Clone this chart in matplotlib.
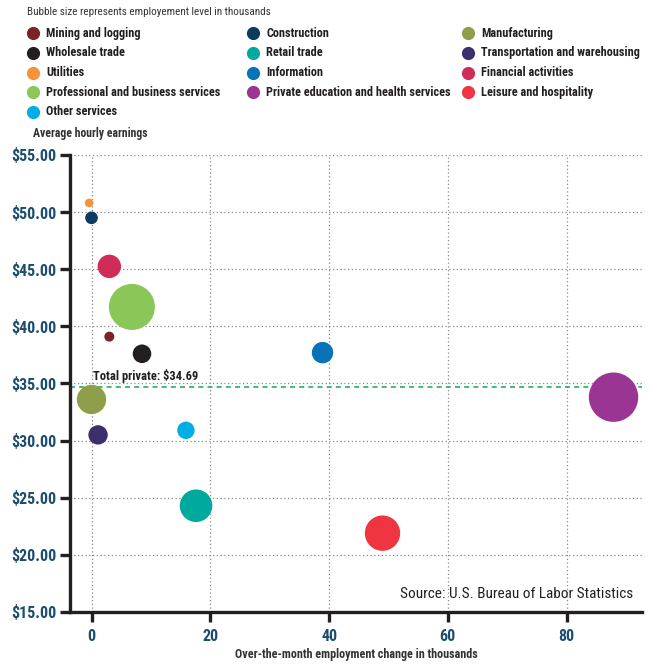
import matplotlib.pyplot as plt
from matplotlib.lines import Line2D

plt.rcParams["font.family"] = ["Roboto Condensed", "DejaVu Sans"]
plt.rcParams["font.stretch"] = "condensed"

# sectors in legend order (row by row)
sectors = ["Mining and logging", "Construction", "Manufacturing",
           "Wholesale trade", "Retail trade", "Transportation and warehousing",
           "Utilities", "Information", "Financial activities",
           "Professional and business services", "Private education and health services",
           "Leisure and hospitality", "Other services"]
job_change = [3.0, 0.0, 0.0, 8.5, 17.6, 1.1, -0.4, 38.9, 3.0, 6.8, 87.9, 49.0, 15.9]
hourly_pay = [39.1, 49.5, 33.6, 37.6, 24.3, 30.5, 50.8, 37.7, 45.25, 41.7, 33.8, 21.9, 30.9]
employment = [1000, 1600, 8600, 3450, 10600, 3750, 740, 4580, 5480, 21200, 24400, 12500, 3030]
colors = ["#7b2326", "#0b3c5d", "#8f9e4a", "#231f20", "#00a99d", "#3d2f6e",
          "#f7923a", "#0872b9", "#d02c5a", "#8bc659", "#9b3593", "#ee3540", "#00aee6"]
total_private = 34.69
x_ticks = [0, 20, 40, 60, 80]
y_ticks = [15, 20, 25, 30, 35, 40, 45, 50, 55]

dark = "#231f20"
blue = "#1b4d6e"

fig = plt.figure(figsize=(6.52, 6.66), dpi=100)
ax = fig.add_axes([0.1074, 0.0811, 0.8773, 0.6862])

sizes = [e * 0.05184 for e in employment]
ax.scatter(job_change, hourly_pay, s=sizes, c=colors, linewidths=0, zorder=3)

ax.axhline(total_private, color="#1fb35a", lw=1.2, ls=(0, (3, 2.5)), zorder=2)
ax.text(0.3, total_private + 0.35, "Total private: $34.69", fontsize=9,
        fontweight="bold", color=dark, va="bottom", ha="left")

ax.set_xlim(-3.62, 92.7)
ax.set_ylim(15, 55)
ax.set_xticks(x_ticks)
ax.set_yticks(y_ticks)
ax.set_yticklabels(["${:.2f}".format(v) for v in y_ticks])
ax.grid(True, ls=(0, (1, 2)), color="#8a8a8a", lw=0.9, zorder=0)
ax.set_axisbelow(True)

for side in ["top", "right"]:
    ax.spines[side].set_visible(False)
for side in ["left", "bottom"]:
    ax.spines[side].set_linewidth(2.4)
    ax.spines[side].set_color(dark)
ax.tick_params(axis="both", length=7, width=2.4, color=dark, labelcolor=blue,
               labelsize=11.5)
ax.tick_params(axis="y", pad=3)
ax.tick_params(axis="x", pad=5)
for lbl in ax.get_xticklabels() + ax.get_yticklabels():
    lbl.set_fontweight("bold")

ax.set_xlabel("Over-the-month employment change in thousands", fontsize=8.7,
              fontweight="bold", color="#333333", labelpad=3)
fig.text(0.051, 0.80, "Average hourly earnings", fontsize=8.5, fontweight="bold",
         color="#333333", va="center")
ax.text(0.985, 0.025, "Source: U.S. Bureau of Labor Statistics", transform=ax.transAxes,
        fontsize=11, color=dark, ha="right", va="bottom")

# legend drawn by hand, row by row
fig.text(0.041, 0.982, "Bubble size represents employement level in thousands",
         fontsize=8, color="#333333", va="center")
col_x = [0.051, 0.388, 0.718]
for i, name in enumerate(sectors):
    row, col = divmod(i, 3)
    y = 0.950 - row * 0.0295
    fig.add_artist(Line2D([col_x[col]], [y], marker="o", markersize=9.5, color=colors[i],
                          markeredgewidth=0, transform=fig.transFigure))
    fig.text(col_x[col] + 0.020, y, name, fontsize=8.8, fontweight="bold",
             color=dark, va="center")

fig.savefig("out.png", dpi=100)
